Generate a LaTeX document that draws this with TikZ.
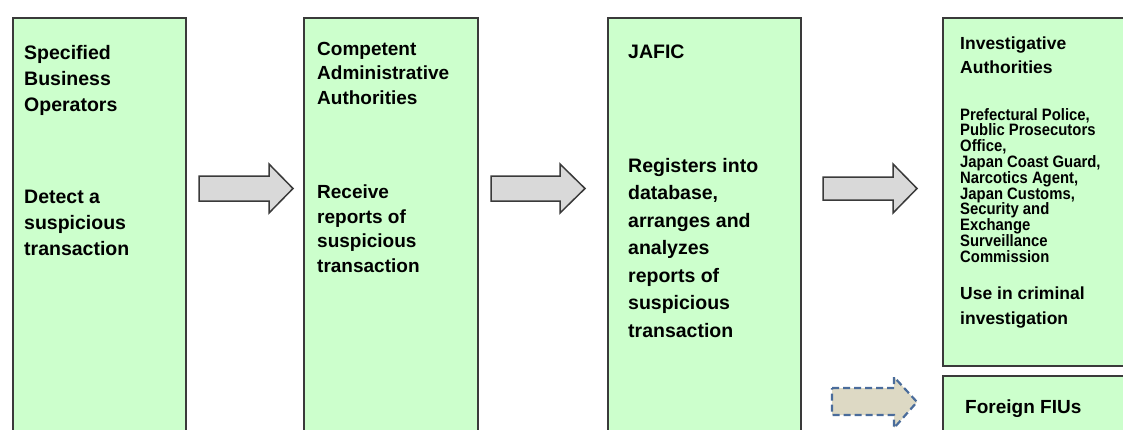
\documentclass[tikz,border=0pt]{standalone}
\usepackage{fontspec}
\setmainfont{Liberation Sans}
\newfontfamily\narrowsans[FakeStretch=0.9]{Liberation Sans}
\definecolor{boxgreen}{HTML}{CCFFCC}
\definecolor{boxline}{HTML}{3A3A3A}
\definecolor{arrowfill}{HTML}{D9D9D9}
\definecolor{dashfill}{HTML}{DDD9C4}
\definecolor{dashline}{HTML}{4A6C9B}
\begin{document}
\begin{tikzpicture}[x=1pt,y=-1pt,
  box/.style={draw=boxline, line width=2pt, fill=boxgreen, anchor=north west, inner sep=0pt},
  txt/.style={anchor=north west, inner sep=0pt, align=left, font=\bfseries\fontsize{19.5}{26}\selectfont},
  blockarrow/.style={draw=boxline, line width=1.5pt, fill=arrowfill, line join=miter},
  dasharrow/.style={draw=dashline, line width=2.2pt, fill=dashfill, dash pattern=on 7pt off 4pt}]
\useasboundingbox (0,0) rectangle (1123,429);
% boxes
\node[box, minimum width=173pt, minimum height=420pt] (b1) at (12,17) {};
\node[box, minimum width=174pt, minimum height=420pt] (b2) at (303,17) {};
\node[box, minimum width=193pt, minimum height=420pt] (b3) at (607,17) {};
\node[box, minimum width=190pt, minimum height=348pt] (b4) at (942,17) {};
\node[box, minimum width=190pt, minimum height=60pt] (b5) at (942,375) {};
% arrows
\draw[blockarrow] (199,176) -- (269,176) -- (269,164) -- (293,188.5) -- (269,213) -- (269,201) -- (199,201) -- cycle;
\draw[blockarrow] (491,176) -- (560,176) -- (560,164) -- (585,188.5) -- (560,213) -- (560,201) -- (491,201) -- cycle;
\draw[blockarrow] (823,177) -- (893,177) -- (893,164) -- (917,188.5) -- (893,213) -- (893,200) -- (823,200) -- cycle;
\draw[dasharrow] (832,388) -- (894,388) -- (894,377) -- (917,402) -- (894,428) -- (894,415) -- (832,415) -- cycle;
% texts
\node[txt] (t1a) at (24,45) {Specified\\Business\\Operators};
\node[txt] (t1b) at (24,190) {Detect a\\suspicious\\transaction};
\node[txt, font=\bfseries\fontsize{19}{24.5}\selectfont] (t2a) at (317,42) {Competent\\Administrative\\Authorities};
\node[txt, font=\bfseries\fontsize{19}{24.5}\selectfont] (t2b) at (317,185) {Receive\\reports of\\suspicious\\transaction};
\node[txt] (t3a) at (628,45) {JAFIC};
\node[txt, font=\bfseries\fontsize{19.5}{27.5}\selectfont] (t3b) at (628,158) {Registers into\\database,\\arranges and\\analyzes\\reports of\\suspicious\\transaction};
\node[txt, font=\bfseries\fontsize{17.5}{24}\selectfont] (t4a) at (960,37) {Investigative\\Authorities};
\node[txt, font=\narrowsans\bfseries\fontsize{16.5}{15.8}\selectfont] (t4b) at (960,108) {Prefectural Police,\\Public Prosecutors\\Office,\\Japan Coast Guard,\\Narcotics Agent,\\Japan Customs,\\Security and\\Exchange\\Surveillance\\Commission};
\node[txt, font=\bfseries\fontsize{17.5}{25}\selectfont] (t4c) at (960,287) {Use in criminal\\investigation};
\node[txt, font=\bfseries\fontsize{19}{24}\selectfont] (t5) at (965,400) {Foreign FIUs};
\end{tikzpicture}
\end{document}
